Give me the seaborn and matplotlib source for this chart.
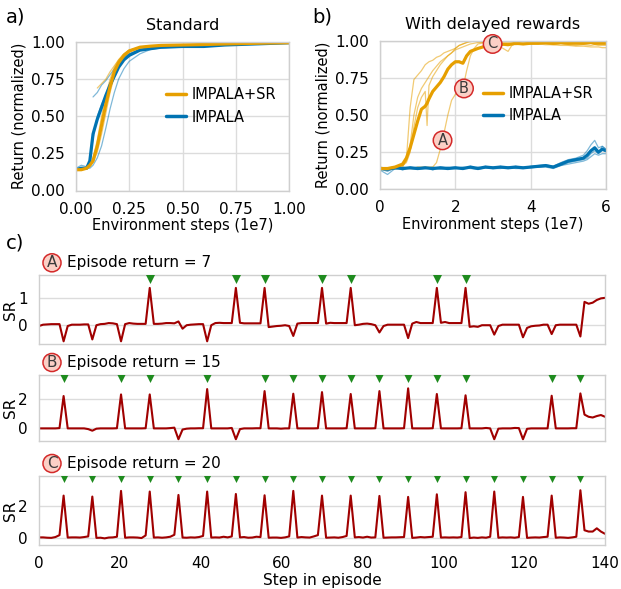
import numpy as np
import pandas as pd
import matplotlib
matplotlib.use("Agg")
import matplotlib.pyplot as plt
import seaborn as sns

# ---------------- data: panel a (Standard) ----------------
a_x = [0, .025, .05, .065, .08, .1, .12, .14, .16, .18, .2, .225, .25, .3, .35, .4, .5, .6, .7, .8, .9, 1.0]
a_sr_mean = [.14, .14, .15, .17, .2, .3, .44, .58, .7, .8, .86, .91, .94, .965, .972, .977, .98, .983, .987, .99, .993, .995]
a_sr_s1 = [.14, .14, .15, .17, .22, .34, .5, .64, .75, .83, .88, .92, .945, .965, .97, .975, .98, .985, .99, .99, .993, .995]
a_sr_s2 = [np.nan, np.nan, np.nan, np.nan, np.nan, .69, .72, .75, .8, .84, .88, .92, .945, .965, .97, .975, .98, .985, .99, .99, .993, .995]
a_sr_s3 = [.14, .14, .15, .16, .19, .26, .38, .52, .66, .77, .84, .9, .93, .96, .97, .975, .98, .985, .99, .99, .993, .995]
a_imp_mean = [.14, .15, .15, .2, .38, .48, .56, .64, .71, .77, .83, .88, .91, .945, .955, .965, .97, .97, .98, .985, .99, .995]
a_imp_s1 = [.14, .14, .15, .15, .17, .22, .3, .42, .55, .66, .75, .82, .87, .92, .95, .96, .965, .97, .98, .985, .99, .995]
a_imp_s2 = [np.nan, np.nan, np.nan, np.nan, .63, .66, .71, .74, .78, .82, .86, .9, .92, .945, .955, .96, .97, .975, .98, .985, .99, .995]
a_imp_s3 = [.15, .17, .16, .2, .35, .5, .58, .64, .71, .78, .84, .89, .92, .95, .96, .965, .97, .975, .98, .985, .99, .995]

# ---------------- data: panel b (With delayed rewards) ----------------
b_x = [0, .2, .4, .6, .7, .8, .9, 1.0, 1.1, 1.2, 1.25, 1.3, 1.4, 1.5, 1.6, 1.7, 1.8, 1.9, 2.0, 2.1, 2.2, 2.3,
       2.4, 2.5, 2.6, 2.8, 3.0, 3.2, 3.4, 3.5, 3.6, 3.8, 4.0, 4.2, 4.4, 4.6, 4.8, 5.0, 5.2, 5.4, 5.6, 5.7, 5.8, 5.9, 6.0]
b_sr_mean = [.14, .14, .15, .17, .21, .28, .37, .46, .54, .56, .58, .61, .66, .69, .72, .76, .81, .84, .86, .86, .85, .9,
             .93, .94, .95, .965, .975, .98, .975, .98, .985, .98, .985, .985, .99, .985, .99, .985, .985, .985, .99, .985, .985, .985, .985]
b_sr_s1 = [.14, .14, .15, .15, .2, .55, .74, .77, .8, .84, .85, .86, .87, .89, .9, .92, .93, .94, .95, .97, .98, .99,
           1.0, 1.0, 1.0, .995, .99, .985, .99, .985, .98, .985, .98, .98, .975, .975, .97, .97, .965, .965, .96, .96, .96, .955, .955]
b_sr_s2 = [.14, .14, .15, .16, .18, .25, .42, .55, .62, .66, .43, .7, .76, .8, .84, .87, .9, .92, .94, .95, .96, .97,
           .98, .985, .99, .99, .985, .96, .93, .97, .98, .985, .99, .99, .99, .985, .99, .99, .985, .99, .99, .985, .99, .985, .985]
b_sr_s3 = [.14, .13, .14, .14, .14, .14, .14, .15, .15, .15, .15, .15, .15, .18, .27, .38, .5, .6, .64, .66, .68, .8,
           .9, .95, .98, .99, .985, .98, .98, .975, .98, .98, .985, .98, .985, .98, .985, .98, .985, .98, .985, .98, .98, .98, .98]
b_sr_s4 = [.14, .14, .15, .16, .19, .3, .5, .62, .68, .72, .74, .76, .8, .83, .86, .88, .9, .92, .95, .97, .98, .99,
           .995, 1.0, .995, .99, .98, .97, .975, .98, .975, .98, .98, .985, .98, .975, .98, .975, .97, .975, .97, .975, .97, .97, .97]
bb_x = [0, .2, .4, .6, .8, 1.0, 1.2, 1.4, 1.6, 1.8, 2.0, 2.2, 2.4, 2.6, 2.8, 3.0, 3.2, 3.4, 3.6, 3.8, 4.0, 4.2, 4.4,
        4.6, 4.8, 5.0, 5.2, 5.4, 5.5, 5.6, 5.7, 5.8, 5.9, 6.0]
b_imp_mean = [.14, .135, .145, .14, .145, .14, .145, .14, .145, .14, .145, .14, .15, .14, .15, .145, .15, .145, .15, .145,
              .15, .155, .16, .15, .17, .19, .2, .21, .23, .26, .28, .25, .27, .26]
b_imp_s1 = [.14, .12, .15, .13, .15, .14, .15, .13, .15, .145, .15, .135, .155, .14, .155, .14, .155, .14, .155, .145,
            .155, .16, .165, .155, .18, .2, .21, .23, .26, .3, .33, .28, .29, .27]
b_imp_s2 = [.13, .1, .14, .145, .14, .15, .14, .15, .14, .15, .14, .15, .145, .15, .145, .15, .145, .15, .145, .15,
            .145, .15, .155, .145, .16, .18, .19, .2, .21, .24, .26, .24, .29, .27]
b_imp_s3 = [.15, .14, .135, .15, .14, .135, .14, .145, .135, .14, .14, .145, .14, .135, .145, .14, .14, .15, .14, .14,
            .15, .15, .15, .14, .16, .17, .18, .19, .2, .22, .24, .23, .24, .24]
b_marks = ["A", "B", "C"]
b_marks_x = [1.66, 2.23, 2.99]
b_marks_y = [0.33, 0.68, 0.98]

# ---------------- data: panel c (SR along episodes) ----------------
sr_a = [-.05, 0, .01, .02, .02, .02, -.62, -.05, 0, 0, 0, .01, .01, -.55, -.02, .02, .03, .06, .05, .02,
        -.62, .02, .06, .04, .03, .03, .03, 1.37, .03, .03, .04, .06, .06, .05, .12, -.15, -.02, 0, .01, .02,
        .02, -.62, -.02, .06, .07, .06, .06, .06, 1.37, .07, .05, .05, .05, .05, .05, 1.37, -.09, -.07, -.05, -.04,
        -.02, -.05, -.42, .04, .06, .06, .06, .06, .06, 1.37, .04, .07, .06, .06, .06, .06, 1.37, -.02, 0, .03,
        .04, .02, -.02, -.29, -.05, 0, 0, 0, 0, 0, -.5, .04, .1, .06, .06, .06, .06, 1.37, .07, .1,
        .06, .06, .06, .06, 1.37, -.08, -.06, -.08, -.02, -.02, -.02, -.37, -.05, 0, 0, 0, 0, 0, -.47, -.12,
        -.06, -.04, -.03, 0, 0, -.35, -.02, 0, 0, 0, 0, 0, -.44, .85, .78, .82, .92, .98, 1.0]
sr_b = [0, 0, 0, 0, 0, .02, 2.23, 0, 0, 0, 0, 0, -.05, -.16, -.02, 0, 0, 0, 0, .01,
        2.34, 0, 0, 0, 0, 0, .01, 2.34, 0, 0, 0, 0, .02, .05, -.75, -.08, -.02, 0, 0, .01,
        .01, 2.71, 0, 0, 0, 0, 0, .03, -.75, -.05, 0, 0, 0, .01, .01, 2.57, 0, 0, 0, -.02,
        0, 0, 2.39, 0, 0, 0, 0, 0, .01, 2.5, 0, 0, 0, 0, 0, .01, 2.37, 0, 0, 0,
        0, 0, .01, 2.57, 0, 0, 0, 0, 0, .01, 2.76, 0, 0, 0, 0, 0, .01, 2.37, 0, 0,
        0, 0, 0, .01, 2.28, 0, 0, 0, 0, .03, 0, -.75, -.02, 0, 0, 0, .03, .02, -.75, -.03,
        0, 0, 0, 0, 0, 2.25, 0, 0, 0, 0, .01, .01, 2.41, .95, .8, .75, .85, .92, .8]
sr_c = [.06, .06, .04, .03, .08, .2, 2.64, .05, .06, .06, .05, .08, .12, 2.58, .03, .04, 0, .05, .06, .1,
        2.93, .04, .06, .06, .05, .02, .18, 2.89, .05, .06, .04, .06, .1, .22, 2.68, .05, .04, .06, .05, .08,
        .15, 2.89, .05, .06, .05, .1, .06, .12, 2.74, .06, .08, .04, .05, .1, .08, 2.66, .04, .05, .05, .03,
        .06, .12, 2.93, .05, .08, .06, .05, .12, .2, 2.64, .04, .05, .06, .04, .08, .15, 2.64, .06, .08, .05,
        .1, .05, .06, 2.62, .04, .05, .06, .06, .07, .08, 2.56, .03, .05, .08, .06, .08, .1, 2.72, .05, .06,
        .05, .06, .05, .08, 2.85, .02, .05, .03, .06, .04, .1, 2.89, .04, .06, .05, .06, .04, .08, 2.56, .03,
        .05, .06, .05, .08, .1, 2.64, .04, .06, .05, .03, .06, .1, 2.97, .5, .42, .42, .62, .42, .28]
reward_a = [27, 48, 55, 69, 76, 97, 104]
reward_b = [6, 20, 27, 41, 55, 62, 69, 76, 83, 90, 97, 104, 125, 132]
reward_c = [6, 13, 20, 27, 34, 41, 48, 55, 62, 69, 76, 83, 90, 97, 104, 111, 118, 125, 132]
episode_letters = ["A", "B", "C"]
episode_returns = [7, 15, 20]
episode_max_step = 140

# ---------------- style ----------------
sns.set_theme(style="whitegrid", rc={"grid.color": "#dcdcdc", "axes.edgecolor": "#cfcfcf",
                                      "grid.linewidth": 1.0, "axes.linewidth": 1.0,
                                      "text.color": "black", "axes.labelcolor": "black",
                                      "xtick.color": "black", "ytick.color": "black"})
plt.rcParams["font.family"] = ["DejaVu Sans"]

ORANGE = "#E69F00"
BLUE = "#0173B2"
RED = "#a00000"
GREEN = "#1e8b1e"
CIRC_FC = "#fbd0c6"
CIRC_EC = "#d42a2a"
FS = 10.5
TFS = 11

W, H = 621, 589
fig = plt.figure(figsize=(W / 100, H / 100), dpi=100)


def px_axes(left, top, right, bottom):
    return fig.add_axes([left / W, 1 - bottom / H, (right - left) / W, (bottom - top) / H])


def circle_text(ax, x, y, s, fs=10.5):
    ax.text(x, y, s, ha="center", va="center", fontsize=fs, color="#3a3a3a", zorder=10,
            bbox=dict(boxstyle="circle,pad=0.12", fc=CIRC_FC, ec=CIRC_EC, lw=1.1))


def learning_panel(ax, x, sr_seeds, sr_mean, imp_x, imp_seeds, imp_mean):
    for s in imp_seeds:
        sns.lineplot(x=imp_x, y=s, ax=ax, color=BLUE, lw=0.9, alpha=0.5, estimator=None)
    for s in sr_seeds:
        sns.lineplot(x=x, y=s, ax=ax, color=ORANGE, lw=0.9, alpha=0.55, estimator=None)
    sns.lineplot(x=imp_x, y=imp_mean, ax=ax, color=BLUE, lw=2.3, estimator=None, label="IMPALA")
    sns.lineplot(x=x, y=sr_mean, ax=ax, color=ORANGE, lw=2.3, estimator=None, label="IMPALA+SR")
    h, l = ax.get_legend_handles_labels()
    leg = ax.legend(h[::-1], l[::-1], loc="center right", bbox_to_anchor=(1.0, 0.57), frameon=False,
                    fontsize=FS, handlelength=1.4, handletextpad=0.35, labelspacing=0.5)
    for ln in leg.get_lines():
        ln.set_linewidth(2.5)
    ax.set_ylim(0, 1.0)
    ax.set_yticks([0, .25, .5, .75, 1.0])
    ax.set_yticklabels(["0.00", "0.25", "0.50", "0.75", "1.00"])
    ax.set_ylabel("Return (normalized)", fontsize=FS, labelpad=3)
    ax.set_xlabel("Environment steps (1e7)", fontsize=FS, labelpad=1)
    ax.tick_params(labelsize=TFS, pad=2)


# panel a
ax_a = px_axes(76, 42, 289, 190.5)
learning_panel(ax_a, a_x, [a_sr_s1, a_sr_s2, a_sr_s3], a_sr_mean, a_x,
               [a_imp_s1, a_imp_s2, a_imp_s3], a_imp_mean)
ax_a.set_xlim(0, 1)
ax_a.set_xticks([0, .25, .5, .75, 1.0])
ax_a.set_xticklabels(["0.00", "0.25", "0.50", "0.75", "1.00"])
ax_a.set_title("Standard", fontsize=11.5, pad=9)

# panel b
ax_b = px_axes(380, 41, 606, 189.3)
learning_panel(ax_b, b_x, [b_sr_s1, b_sr_s2, b_sr_s3, b_sr_s4], b_sr_mean, bb_x,
               [b_imp_s1, b_imp_s2, b_imp_s3], b_imp_mean)
ax_b.set_xlim(0, 6)
ax_b.set_xticks([0, 2, 4, 6])
ax_b.set_title("With delayed rewards", fontsize=11.5, pad=9)
for s, mx, my in zip(b_marks, b_marks_x, b_marks_y):
    circle_text(ax_b, mx, my, s)

# panel c
c_boxes = [(39, 275.3, 605, 344), (39, 375, 605, 441), (39, 476, 605, 545)]
c_data = [sr_a, sr_b, sr_c]
c_rewards = [reward_a, reward_b, reward_c]
c_ylims = [(-0.72, 1.84), (-0.87, 3.68), (-0.41, 3.85)]
c_yticks = [[0, 1], [0, 2], [0, 2]]
for k in range(3):
    l, t, r, b = c_boxes[k]
    ax = px_axes(l, t, r, b)
    sr = np.array(c_data[k])
    steps = np.linspace(0, episode_max_step, len(sr))
    sns.lineplot(x=steps, y=sr, ax=ax, color=RED, lw=1.5, estimator=None)
    rw = c_rewards[k]
    sns.scatterplot(x=steps[rw], y=np.full(len(rw), 1.25 * sr.max()), ax=ax, marker="v",
                    color=GREEN, s=42, linewidth=0, zorder=5)
    ax.set_xlim(0, episode_max_step)
    ax.set_ylim(*c_ylims[k])
    ax.set_yticks(c_yticks[k])
    ax.set_xticks(range(0, 141, 20))
    ax.grid(axis="x", visible=False)
    ax.set_ylabel("SR", fontsize=11)
    ax.yaxis.set_label_coords(-0.037, 0.5)
    ax.tick_params(labelsize=TFS, pad=2)
    if k < 2:
        ax.set_xticklabels([])
    else:
        ax.set_xlabel("Step in episode", fontsize=FS + 0.5, labelpad=1)
    ax.annotate(episode_letters[k], xy=(0, 1), xycoords="axes fraction", xytext=(13 * 0.72, 12.5 * 0.72),
                textcoords="offset points", ha="center", va="center", fontsize=11, color="#3a3a3a",
                bbox=dict(boxstyle="circle,pad=0.1", fc=CIRC_FC, ec=CIRC_EC, lw=1.1))
    ax.annotate(f"Episode return = {episode_returns[k]}", xy=(0, 1), xycoords="axes fraction",
                xytext=(28 * 0.72, 12.5 * 0.72), textcoords="offset points", ha="left", va="center",
                fontsize=11, color="black")

fig.text(6 / W, 1 - 17 / H, "a)", fontsize=14, ha="left", va="center")
fig.text(312 / W, 1 - 17 / H, "b)", fontsize=14, ha="left", va="center")
fig.text(6 / W, 1 - 243 / H, "c)", fontsize=14, ha="left", va="center")

fig.savefig("out.png", dpi=100)
